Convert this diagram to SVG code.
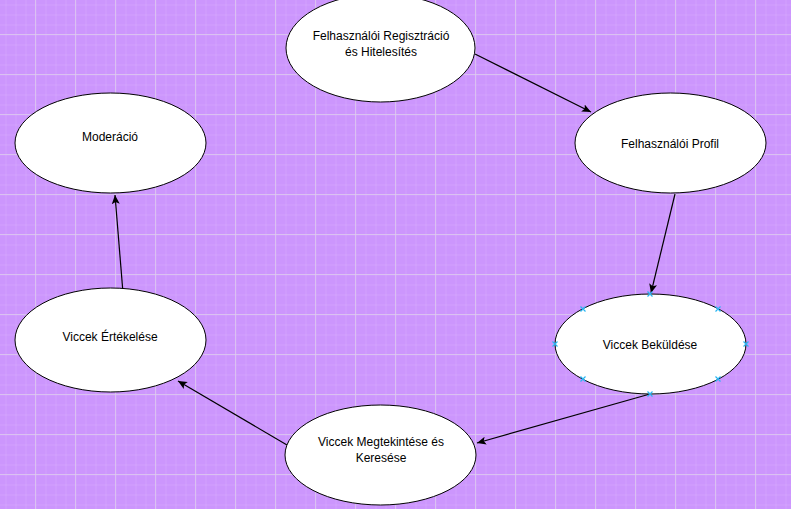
<svg xmlns="http://www.w3.org/2000/svg" width="791" height="509" viewBox="0 0 791 509">
<defs>
<pattern id="minor" width="10" height="10" patternUnits="userSpaceOnUse" x="5.5" y="4.5">
<path d="M0 0.5H10M0.5 0V10" fill="none" stroke="#ffffff" stroke-opacity="0.1" stroke-width="1"/>
</pattern>
<pattern id="major" width="40" height="40" patternUnits="userSpaceOnUse" x="35" y="34">
<path d="M0 0.5H40M0.5 0V40" fill="none" stroke="#ddcdee" stroke-opacity="0.75" stroke-width="1"/>
</pattern>
<marker id="arr" markerWidth="10" markerHeight="10" refX="9" refY="5" orient="auto" markerUnits="userSpaceOnUse">
<path d="M0 1L9 5L0 9L2 5Z" fill="#000"/>
</marker>
<style>
.node ellipse{fill:#fff;stroke:#000;stroke-width:1}
.node text{font-family:"Liberation Sans",Arial,sans-serif;font-size:12px;fill:#000;text-anchor:middle}
.edges line{stroke:#000;stroke-width:1.2;marker-end:url(#arr)}
.pt path{stroke:#29b6f2;stroke-width:1.2;fill:none}
</style>
</defs>
<rect width="791" height="509" fill="#cc96fd"/>
<rect width="791" height="509" fill="url(#minor)"/>
<rect width="791" height="509" fill="url(#major)"/>

<g class="edges" id="connectors">
<line x1="475" y1="54" x2="591" y2="112"/>
<line x1="675" y1="194" x2="651" y2="293"/>
<line x1="650" y1="394" x2="477" y2="443"/>
<line x1="287" y1="445" x2="178" y2="381"/>
<line x1="123" y1="293" x2="115" y2="195"/>
</g>

<g class="node" id="n-regisztracio">
<ellipse cx="380.5" cy="48" rx="94.5" ry="54"/>
<text x="381" y="40">Felhasználói Regisztráció</text>
<text x="381" y="56">és Hitelesítés</text>
</g>
<g class="node" id="n-profil">
<ellipse cx="670.5" cy="143" rx="95.5" ry="50"/>
<text x="670" y="148">Felhasználói Profil</text>
</g>
<g class="node" id="n-bekuldes">
<ellipse cx="650.5" cy="344" rx="95.5" ry="50"/>
<text x="650" y="349">Viccek Beküldése</text>
<g class="pt">
<path d="M647.5 291.5l5 5M652.5 291.5l-5 5"/>
<path d="M647.5 391.5l5 5M652.5 391.5l-5 5"/>
<path d="M552.5 341.5l5 5M557.5 341.5l-5 5"/>
<path d="M743.5 341.5l5 5M748.5 341.5l-5 5"/>
<path d="M580.5 306.5l5 5M585.5 306.5l-5 5"/>
<path d="M715.5 306.5l5 5M720.5 306.5l-5 5"/>
<path d="M580.5 376.5l5 5M585.5 376.5l-5 5"/>
<path d="M715.5 376.5l5 5M720.5 376.5l-5 5"/>
</g>
</g>
<g class="node" id="n-megtekintes">
<ellipse cx="380.5" cy="455" rx="95.5" ry="50"/>
<text x="381" y="446">Viccek Megtekintése és</text>
<text x="381" y="462">Keresése</text>
</g>
<g class="node" id="n-ertekeles">
<ellipse cx="110.5" cy="340" rx="95.5" ry="52"/>
<text x="110" y="341">Viccek Értékelése</text>
</g>
<g class="node" id="n-moderacio">
<ellipse cx="110.5" cy="143" rx="95.5" ry="50"/>
<text x="110" y="141">Moderáció</text>
</g>
</svg>
